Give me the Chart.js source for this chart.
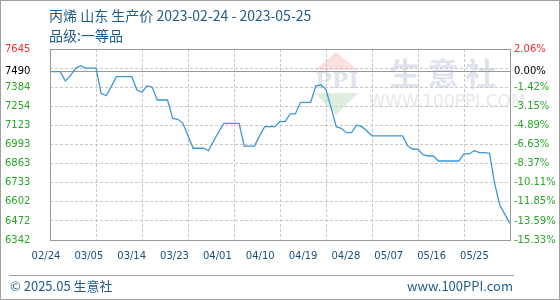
<!DOCTYPE html>
<html>
<head>
<meta charset="utf-8">
<script src="https://cdn.jsdelivr.net/npm/chart.js@4.4.0/dist/chart.umd.min.js"></script>
<style>
body { margin: 0; background: #fff; }
#box { position: relative; width: 560px; height: 300px; overflow: hidden; background: #fff; }
#frame { position: absolute; left: 0; top: 0; width: 560px; height: 300px; box-sizing: border-box; border: 1px solid #a0a0a0; pointer-events: none; }
canvas { position: absolute; left: 0; top: 0; }
.txt { position: absolute; white-space: nowrap; color: #1f5c8a; font-family: "Noto Sans CJK SC", sans-serif; }
#title { left: 49px; top: 5px; font-size: 14px; line-height: 20px; }
#sub { left: 49px; top: 25px; font-size: 14px; line-height: 20px; }
#footline { position: absolute; left: 9px; top: 275px; width: 505px; height: 0; border-top: 1px solid #a0a0a0; }
#copy { left: 10px; top: 276px; font-size: 13px; line-height: 20px; }
#site { right: 47px; top: 276px; font-size: 13px; line-height: 20px; }
</style>
</head>
<body>
<div id="box">
  <canvas id="chart" width="560" height="300"></canvas>
  <div class="txt" id="title">丙烯 山东 生产价 2023-02-24 - 2023-05-25</div>
  <div class="txt" id="sub">品级:一等品</div>
  <div id="footline"></div>
  <div class="txt" id="copy">© 2025.05 生意社</div>
  <div class="txt" id="site">www.100PPI.com</div>
  <div id="frame"></div>
</div>
<script>
// daily dates 2023-02-24 .. 2023-05-25
const dates = [
  '02-24','02-25','02-26','02-27','02-28','03-01','03-02','03-03','03-04','03-05',
  '03-06','03-07','03-08','03-09','03-10','03-11','03-12','03-13','03-14','03-15',
  '03-16','03-17','03-18','03-19','03-20','03-21','03-22','03-23','03-24','03-25',
  '03-26','03-27','03-28','03-29','03-30','03-31','04-01','04-02','04-03','04-04',
  '04-05','04-06','04-07','04-08','04-09','04-10','04-11','04-12','04-13','04-14',
  '04-15','04-16','04-17','04-18','04-19','04-20','04-21','04-22','04-23','04-24',
  '04-25','04-26','04-27','04-28','04-29','04-30','05-01','05-02','05-03','05-04',
  '05-05','05-06','05-07','05-08','05-09','05-10','05-11','05-12','05-13','05-14',
  '05-15','05-16','05-17','05-18','05-19','05-20','05-21','05-22','05-23','05-24',
  '05-25'
];

// price, yuan/ton
const prices = [
  7490, 7490, 7490, 7427, 7463, 7513, 7531, 7515, 7515, 7515,
  7343, 7326, 7390, 7456, 7456, 7456, 7456, 7365, 7350, 7395,
  7384, 7297, 7297, 7297, 7172, 7165, 7138, 7053, 6968, 6968,
  6968, 6951, 7017, 7079, 7138, 7138, 7138, 7138, 6983, 6983,
  6983, 7052, 7115, 7115, 7115, 7149, 7149, 7202, 7202, 7281,
  7281, 7281, 7393, 7399, 7370, 7243, 7115, 7104, 7074, 7074,
  7127, 7115, 7086, 7052, 7052, 7052, 7052, 7052, 7052, 7052,
  6983, 6961, 6961, 6922, 6915, 6915, 6881, 6881, 6881, 6881,
  6881, 6929, 6929, 6951, 6938, 6938, 6933, 6727, 6581, 6517,
  6455
];

const basePrice = 7490;
const yMax = 7645;
const yMin = 6342;
const yTicks = [7645, 7490, 7384, 7254, 7123, 6993, 6863, 6733, 6602, 6472, 6342];
const pctLabels = ['2.06%', '0.00%', '-1.42%', '-3.15%', '-4.89%', '-6.63%', '-8.37%', '-10.11%', '-11.85%', '-13.59%', '-15.33%'];
const xTickLabels = ['02/24','03/05','03/14','03/23','04/01','04/10','04/19','04/28','05/07','05/16','05/25'];

const tickFont = { family: 'DejaVu Sans', size: 10 };
function yColor(ctx) {
    if (ctx.index === 0) return '#ff2a2a';
    if (ctx.index === 1) return '#000000';
    return '#2aa52a';
}

// watermark + plot frame
const decor = {
    id: 'decor',
    beforeDraw(chart) {
        const c = chart.ctx;
        c.save();
        // logo
        c.fillStyle = '#fbe0e0';
        c.beginPath(); c.moveTo(336, 52); c.lineTo(358, 70); c.lineTo(315, 70); c.closePath(); c.fill();
        c.fillStyle = '#dcefdc';
        c.beginPath(); c.moveTo(315, 93); c.lineTo(358, 93); c.lineTo(336, 115); c.closePath(); c.fill();
        c.fillStyle = '#dfe4ee';
        c.font = 'bold 22px "DejaVu Serif"';
        c.textAlign = 'center'; c.textBaseline = 'middle';
        c.fillText('PPI', 337, 82);
        c.font = 'bold 31px "Noto Sans CJK SC"';
        c.fillStyle = '#dfe3ed';
        c.fillText('生 意 社', 443, 73);
        c.font = '17px "DejaVu Sans"';
        c.fillStyle = '#e8e8e8';
        c.fillText('WWW.100PPI.COM', 447, 103);
        c.restore();
    },
    afterDraw(chart) {
        const a = chart.chartArea;
        const c = chart.ctx;
        c.save();
        c.strokeStyle = '#999999';
        c.lineWidth = 1;
        c.strokeRect(Math.round(a.left) + 0.5, Math.round(a.top) + 0.5, Math.round(a.right - a.left), Math.round(a.bottom - a.top));
        c.restore();
    }
};

const ctx = document.getElementById('chart').getContext('2d');
new Chart(ctx, {
    type: 'line',
    data: {
        labels: dates,
        datasets: [{
            data: prices,
            borderColor: '#3b98d6',
            borderWidth: 1.3,
            pointRadius: 0,
            tension: 0,
            fill: false
        }]
    },
    options: {
        responsive: false,
        animation: false,
        layout: { padding: { top: 49, bottom: 34, left: 5, right: 2 } },
        plugins: { legend: { display: false }, tooltip: { enabled: false } },
        scales: {
            x: {
                type: 'category',
                offset: false,
                ticks: { display: false, autoSkip: false },
                grid: {
                    drawTicks: false,
                    color: c => (c.index % 9 === 0 ? '#c8c8c8' : 'rgba(0,0,0,0)')
                },
                border: { display: false, dash: [3, 2] },
                afterFit: s => { s.height = 0; }
            },
            // label axis: date labels sit a little left of the grid lines
            x2: {
                type: 'linear',
                position: 'bottom',
                min: 0.0933,
                max: 10.83,
                afterBuildTicks: s => { s.ticks = xTickLabels.map((_, i) => ({ value: i })); },
                ticks: {
                    autoSkip: false,
                    maxRotation: 0,
                    padding: 10,
                    font: tickFont,
                    color: '#1a4f7a',
                    callback: v => xTickLabels[v]
                },
                grid: { display: false, drawTicks: false },
                border: { display: false },
                afterFit: s => { s.height = 26; }
            },
            y: {
                position: 'left',
                min: yMin,
                max: yMax,
                afterBuildTicks: s => { s.ticks = yTicks.map(v => ({ value: v })); },
                ticks: {
                    crossAlign: 'far',
                    font: tickFont,
                    color: yColor,
                    callback: v => String(v)
                },
                grid: {
                    drawTicks: false,
                    color: c => (c.tick && c.tick.value === basePrice ? '#999999' : 'rgba(0,0,0,0)')
                },
                border: { display: false },
                afterFit: s => { s.width = 45; }
            },
            // dashed horizontal grid, 10 equal steps
            yg: {
                position: 'left',
                min: yMin,
                max: yMax,
                afterBuildTicks: s => {
                    const step = (yMax - yMin) / 10;
                    s.ticks = yTicks.map((_, i) => ({ value: yMax - i * step }));
                },
                ticks: { display: false },
                grid: { drawTicks: false, color: '#c8c8c8' },
                border: { display: false, dash: [3, 2] },
                afterFit: s => { s.width = 0; }
            },
            y2: {
                position: 'right',
                min: yMin,
                max: yMax,
                afterBuildTicks: s => { s.ticks = yTicks.map(v => ({ value: v })); },
                ticks: {
                    padding: 4,
                    font: tickFont,
                    color: yColor,
                    callback: (v, i) => pctLabels[i]
                },
                grid: { display: false, drawTicks: false },
                border: { display: false },
                afterFit: s => { s.width = 48; }
            }
        }
    },
    plugins: [decor]
});
</script>
</body>
</html>
